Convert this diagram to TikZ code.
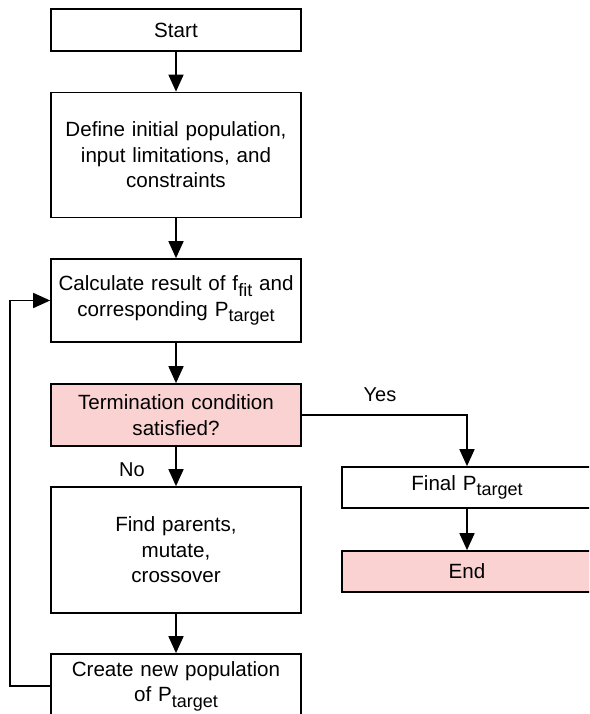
\documentclass[tikz,border=0pt]{standalone}
\usepackage{fontspec}
\setmainfont{Liberation Sans}
\usetikzlibrary{arrows.meta}
\definecolor{pinkfill}{HTML}{FAD2D2}
\newcommand\mysub[1]{\raisebox{-0.5ex}{\fontsize{18}{18}\selectfont #1}}
\begin{document}
\begin{tikzpicture}[x=1pt,y=-1pt,
  box/.style={draw=black,line width=1.7pt,rectangle,minimum width=250pt,align=center,
    text width=240pt,font=\fontsize{20.6}{25.5}\selectfont,inner sep=0pt},
  pinkbox/.style={box,fill=pinkfill},
  arr/.style={line width=1.7pt,-{Triangle[length=17pt,width=15pt]}},
  lbl/.style={font=\fontsize{20}{24}\selectfont,inner sep=0pt}]
\clip (0,0) rectangle (589,714);
\useasboundingbox (0,0) rectangle (589,714);
\node[box,minimum height=42pt] (start) at (176,30) {Start};
\node[box,minimum height=125pt] (define) at (176,155) {Define initial population,\\input limitations, and\\constraints};
\node[box,minimum height=83pt] (calc) at (176,300.5) {Calculate result of f\mysub{fit} and\\corresponding P\mysub{target}};
\node[pinkbox,minimum height=62pt] (term) at (176,415) {Termination condition\\satisfied?};
\node[box,minimum height=126pt] (find) at (176,550) {Find parents,\\mutate,\\crossover};
\node[box,minimum height=64pt] (create) at (176,686) {Create new population\\of P\mysub{target}};
\node[box,minimum height=41pt] (final) at (467,487.5) {Final P\mysub{target}};
\node[pinkbox,minimum height=41pt] (end) at (467,571.5) {End};
\coordinate (loopbl) at (10,686);
\coordinate (looptl) at (10,300.5);
\coordinate (yescorner) at (467,415);
\draw[arr] (start) -- (define);
\draw[arr] (define) -- (calc);
\draw[arr] (calc) -- (term);
\draw[arr] (term) -- (find);
\draw[arr] (find) -- (create);
\draw[arr] (create.west) -- (loopbl) -- (looptl) -- (calc.west);
\draw[arr] (term.east) -- (yescorner) -- (final.north);
\draw[arr] (final) -- (end);
\node[lbl] (yes) at (380,395) {Yes};
\node[lbl] (no) at (132,470) {No};
\end{tikzpicture}
\end{document}
